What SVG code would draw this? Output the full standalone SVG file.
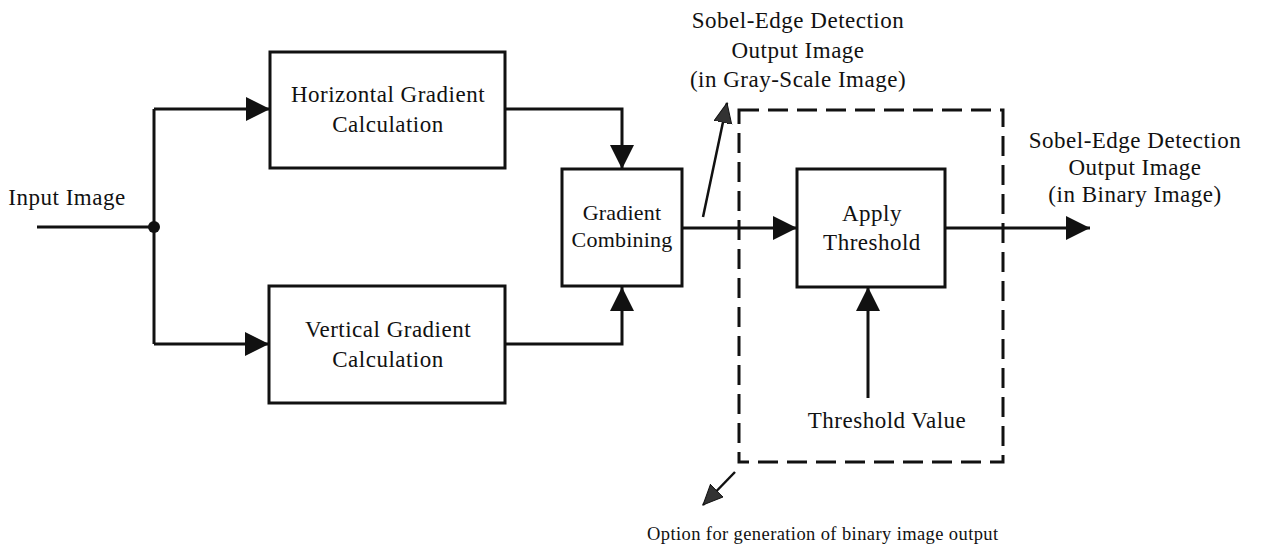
<svg xmlns="http://www.w3.org/2000/svg" width="1263" height="556" viewBox="0 0 1263 556">
<style>
  .box { fill: #ffffff; stroke: #111; stroke-width: 3; }
  .ln { fill: none; stroke: #111; stroke-width: 3; }
  .lead { fill: none; stroke: #111; stroke-width: 2.5; }
  .dash { fill: none; stroke: #111; stroke-width: 3; stroke-dasharray: 20 9; }
  text { font-family: "Liberation Serif", "Times New Roman", serif; font-size: 23px; fill: #111; text-anchor: middle; letter-spacing: 0.5px; }
  .tight { font-size: 22px; letter-spacing: 0.2px; }
  .small { font-size: 18.5px; text-anchor: start; letter-spacing: 0.4px; }
</style>
<defs>
  <marker id="ah" markerUnits="userSpaceOnUse" markerWidth="26" markerHeight="26" refX="24" refY="12" orient="auto">
    <path d="M0,0 L24,12 L0,24 Z" fill="#111"/>
  </marker>
  <marker id="lh" markerUnits="userSpaceOnUse" markerWidth="22" markerHeight="22" refX="20" refY="9" orient="auto">
    <path d="M0,0 L20,9 L0,18 Z" fill="#333" stroke="#111" stroke-width="1"/>
  </marker>
</defs>
<rect width="1263" height="556" fill="#ffffff"/>

<g id="connectors">
  <line class="ln" x1="37" y1="227" x2="154" y2="227"/>
  <line class="ln" x1="154" y1="109" x2="154" y2="344"/>
  <line class="ln" x1="154" y1="109" x2="270" y2="109" marker-end="url(#ah)"/>
  <line class="ln" x1="154" y1="344" x2="269" y2="344" marker-end="url(#ah)"/>
  <path class="ln" d="M505,109 H622 V169" marker-end="url(#ah)"/>
  <path class="ln" d="M505,344 H622 V287" marker-end="url(#ah)"/>
  <line class="ln" x1="682" y1="228" x2="797" y2="228" marker-end="url(#ah)"/>
  <line class="ln" x1="945" y1="228" x2="1090" y2="228" marker-end="url(#ah)"/>
  <line class="ln" x1="868" y1="398" x2="868" y2="287" marker-end="url(#ah)"/>
  <line class="lead" x1="703" y1="217" x2="727" y2="103" marker-end="url(#lh)"/>
  <line class="lead" x1="735" y1="472" x2="703" y2="505" marker-end="url(#lh)"/>
  <circle cx="154" cy="227" r="6" fill="#111"/>
</g>

<g id="threshold-option">
  <rect class="dash" x="739" y="110" width="264" height="352"/>
</g>

<g id="input-image">
  <text x="67" y="205">Input Image</text>
</g>

<g id="horizontal-gradient">
  <rect class="box" x="270" y="52" width="235" height="116"/>
  <text x="388" y="102">Horizontal Gradient</text>
  <text x="388" y="132">Calculation</text>
</g>

<g id="vertical-gradient">
  <rect class="box" x="269" y="286" width="236" height="117"/>
  <text x="388" y="337">Vertical Gradient</text>
  <text x="388" y="367">Calculation</text>
</g>

<g id="gradient-combining">
  <rect class="box" x="562" y="169" width="120" height="117"/>
  <text class="tight" x="622" y="220">Gradient</text>
  <text class="tight" x="622" y="247">Combining</text>
</g>

<g id="apply-threshold">
  <rect class="box" x="797" y="169" width="148" height="118"/>
  <text x="872" y="221">Apply</text>
  <text x="872" y="250">Threshold</text>
</g>

<g id="threshold-value">
  <text x="887" y="428">Threshold Value</text>
</g>

<g id="grayscale-output">
  <text x="798" y="28">Sobel-Edge Detection</text>
  <text x="798" y="58">Output Image</text>
  <text x="798" y="87">(in Gray-Scale Image)</text>
</g>

<g id="binary-output">
  <text x="1135" y="148">Sobel-Edge Detection</text>
  <text x="1135" y="175">Output Image</text>
  <text x="1135" y="202">(in Binary Image)</text>
</g>

<g id="option-label">
  <text class="small" x="647" y="540">Option for generation of binary image output</text>
</g>
</svg>
